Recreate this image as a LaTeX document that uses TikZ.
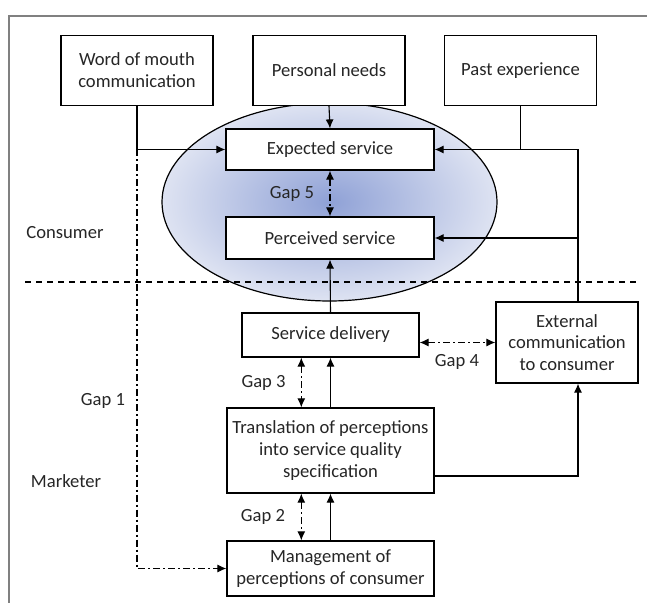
\documentclass[tikz,border=0pt]{standalone}
\usepackage{fontspec}
\setmainfont{Carlito}
\usetikzlibrary{arrows.meta}

\definecolor{ellin}{RGB}{143,161,214}
\definecolor{ellout}{RGB}{222,227,242}

\tikzset{
  box/.style={draw, fill=white, line width=0.6pt, align=center, inner sep=0pt,
    font=\fontsize{9.3}{10.9}\selectfont},
  lbl/.style={align=center, inner sep=0pt, font=\fontsize{9.3}{10.9}\selectfont},
  gaparrow/.style={<->, dash pattern=on 3.5pt off 1.5pt on 1pt off 1.5pt},
  gapline/.style={dash pattern=on 3.5pt off 1.5pt on 1pt off 1.5pt},
}

\begin{document}
\begin{tikzpicture}[x=0.5pt,y=-0.5pt,>={Latex[length=4.5pt,width=4pt]},
    line width=0.55pt, text=black!85]

	\useasboundingbox (0,0) rectangle (647,603);

	% frame
	\draw [gray,line width=0.8pt] (9,603) -- (9,16) -- (647,16);

	% consumer side
	\shadedraw [inner color=ellin,outer color=ellout,line width=0.6pt]
	    (329.5,202) ellipse [x radius=83.75pt, y radius=49.5pt];

	\node (word)  [box,minimum width=76pt,minimum height=35pt] at (137,70.5) {Word of mouth\\communication};
	\node (needs) [box,minimum width=76pt,minimum height=35pt] at (329,70.5) {Personal needs};
	\node (past)  [box,minimum width=76pt,minimum height=35pt] at (520.5,70.5) {Past experience};

	\node (expected)  [box,minimum width=104pt,minimum height=20.5pt] at (330,149.5) {Expected service};
	\node (perceived) [box,minimum width=104pt,minimum height=21pt] at (330,238) {Perceived service};

	% marketer side
	\node (delivery)    [box,minimum width=88.5pt,minimum height=22pt] at (330.5,335) {Service delivery};
	\node (external)    [box,minimum width=71pt,minimum height=40.5pt] at (567,342.5) {External\\communication\\to consumer};
	\node (translation) [box,minimum width=103.5pt,minimum height=42.5pt] at (330.5,450.5) {Translation of perceptions\\into service quality\\specification};
	\node (management)  [box,minimum width=103.5pt,minimum height=27.5pt] at (330.5,568.5) {Management of\\perceptions of consumer};

	\node (consumer) [lbl] at (65,233) {Consumer};
	\node (marketer) [lbl] at (66,481) {Marketer};

	\coordinate (rline) at (578,0);
	\coordinate (gline) at (301.3,0);
	\coordinate (divl) at (25,282);
	\coordinate (divr) at (640,282);

	\draw [dashed,dash pattern=on 3pt off 2.5pt] (divl) -- (divr);

	% influences on expected service
	\draw [->] (word.south) |- (expected.west);
	\draw [->] (needs.south) -- (expected.north);
	\draw (past.south) -- (past.south |- expected.east);
	\draw [->] (rline |- external.north) |- (expected.east);
	\draw [->] (rline |- perceived.east) -- (perceived.east);

	\draw [->] (delivery.north) -- (perceived.south);
	\draw [->] (translation.north) -- (delivery.south);
	\draw [->] (management.north) -- (translation.south);
	\draw [->] (translation.east |- 0,476) -| (rline |- external.south);

	% gaps
	\draw [gapline,->] (word.south |- expected.west) -- (word.south |- management.west) -- (management.west);
	\node (gap1) [lbl] at (103,401) {Gap 1};

	\draw [gaparrow] (gline |- translation.south) -- (gline |- management.north);
	\node (gap2) [lbl] at (263,516.7) {Gap 2};

	\draw [gaparrow] (gline |- delivery.south) -- (gline |- translation.north);
	\node (gap3) [lbl] at (263.6,382.6) {Gap 3};

	\draw [gaparrow] (delivery.east |- external.west) -- (external.west);
	\node (gap4) [lbl] at (457,362) {Gap 4};

	\draw [gaparrow] (expected.south) -- (perceived.north);
	\node (gap5) [lbl] at (292,194) {Gap 5};

\end{tikzpicture}
\end{document}
